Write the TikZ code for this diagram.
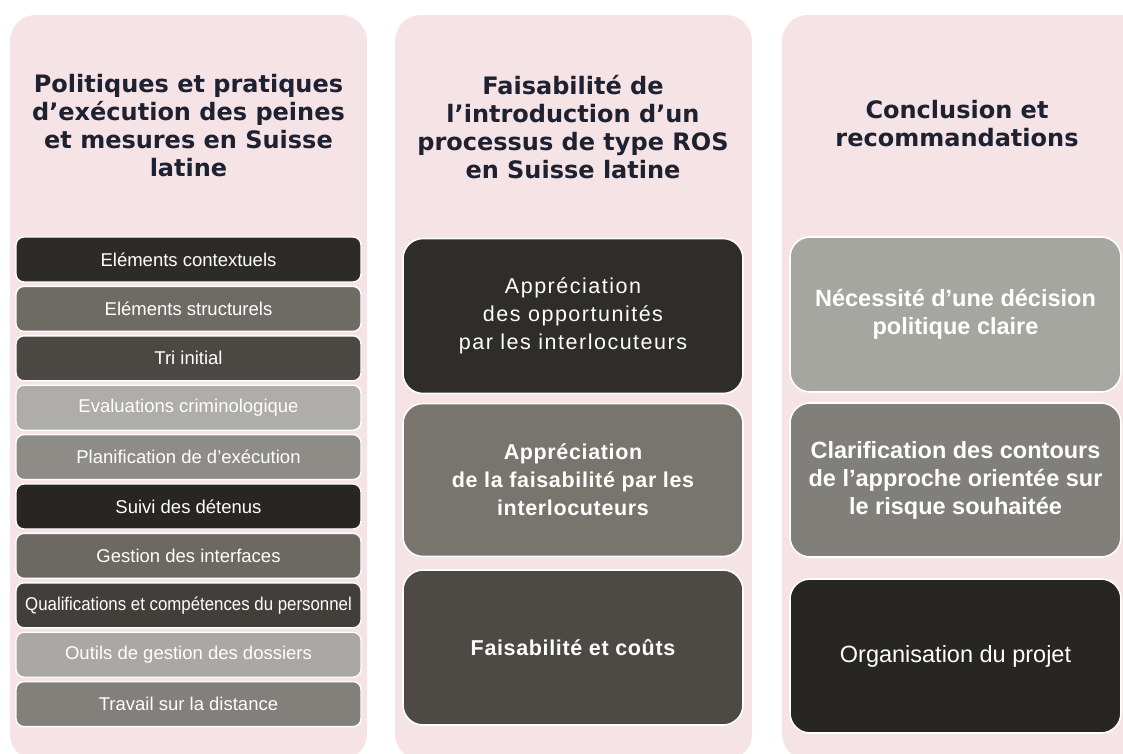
\documentclass[tikz,border=0pt]{standalone}
\usepackage{fontspec}
\setmainfont{Liberation Sans}
\newfontfamily\titlefont{DejaVu Sans}
\newfontfamily\trackfont[LetterSpace=7]{Liberation Sans}
\newfontfamily\trackboldfont[LetterSpace=3]{Liberation Sans}
\definecolor{pinkcol}{HTML}{F6E3E5}
\definecolor{titlecol}{HTML}{1E2131}
\definecolor{cA}{HTML}{2D2B28}
\definecolor{cB}{HTML}{6E6B65}
\definecolor{cC}{HTML}{4B4843}
\definecolor{cD}{HTML}{AEADAA}
\definecolor{cE}{HTML}{8E8C87}
\definecolor{cF}{HTML}{272623}
\definecolor{cG}{HTML}{6C6963}
\definecolor{cH}{HTML}{423F3A}
\definecolor{cI}{HTML}{A9A8A4}
\definecolor{cJ}{HTML}{82807B}
\definecolor{dA}{HTML}{2F2D2A}
\definecolor{dB}{HTML}{78756F}
\definecolor{dC}{HTML}{4D4A45}
\definecolor{eA}{HTML}{A6A6A1}
\definecolor{eB}{HTML}{817F7A}
\definecolor{eC}{HTML}{272623}
\tikzset{
  colbg/.style={fill=pinkcol, draw=none, rounded corners=26pt},
  title/.style={text=titlecol, align=center, font=\titlefont\bfseries\fontsize{24}{28}\selectfont},
  rowbox/.style={draw=white, line width=1.4pt, rounded corners=8pt, minimum width=345pt, minimum height=45pt, inner sep=0pt, text=white, font=\fontsize{18.5}{21}\selectfont},
  bigbox/.style={draw=white, line width=1.6pt, rounded corners=20pt, inner sep=0pt, text=white, align=center},
  midbox/.style={bigbox, minimum width=340pt},
  rightbox/.style={bigbox, minimum width=331pt},
}
\begin{document}
\begin{tikzpicture}[x=1pt,y=-1pt]
\useasboundingbox (0,0) rectangle (1123,753);
\fill[white] (0,0) rectangle (1123,753);
\begin{scope}
\clip (0,0) rectangle (1123,753);
\path[colbg] (10,15) rectangle (367,760);
\path[colbg] (395,15) rectangle (752,760);
\path[colbg] (782,15) rectangle (1150,760);
\end{scope}
% titles
\node[title] (t1) at (188.5,126) {Politiques et pratiques\\d’exécution des peines\\et mesures en Suisse\\latine};
\node[title] (t2) at (573,127) {Faisabilité de\\l’introduction d’un\\processus de type ROS\\en Suisse latine};
\node[title] (t3) at (957,124) {Conclusion et\\recommandations};
% column 1
\node[rowbox, fill=cA] (r1) at (188.5,259.5) {Eléments contextuels};
\node[rowbox, fill=cB] (r2) at (188.5,308.9) {Eléments structurels};
\node[rowbox, fill=cC] (r3) at (188.5,358.3) {Tri initial};
\node[rowbox, fill=cD] (r4) at (188.5,407.7) {Evaluations criminologique};
\node[rowbox, fill=cE] (r5) at (188.5,457.1) {Planification de d’exécution};
\node[rowbox, fill=cF] (r6) at (188.5,506.5) {Suivi des détenus};
\node[rowbox, fill=cG] (r7) at (188.5,555.9) {Gestion des interfaces};
\node[rowbox, fill=cH] (r8) at (188.5,605.3) {\scalebox{0.91}[1]{Qualifications et compétences du personnel}};
\node[rowbox, fill=cI] (r9) at (188.5,654.7) {Outils de gestion des dossiers};
\node[rowbox, fill=cJ] (r10) at (188.5,704.1) {Travail sur la distance};
% column 2
\node[midbox, fill=dA, minimum height=155pt, font=\trackfont\fontsize{21.5}{28}\selectfont] (m1) at (573,316) {Appréciation\\des opportunités\\par les interlocuteurs};
\node[midbox, fill=dB, minimum height=153pt, font=\trackboldfont\bfseries\fontsize{21.5}{28}\selectfont] (m2) at (573,480) {Appréciation\\de la faisabilité par les\\interlocuteurs};
\node[midbox, fill=dC, minimum height=155pt, font=\trackboldfont\bfseries\fontsize{21.5}{28}\selectfont] (m3) at (573,647.5) {Faisabilité et coûts};
% column 3
\node[rightbox, fill=eA, minimum height=155pt, font=\bfseries\fontsize{23.5}{28}\selectfont] (e1) at (955.5,314.5) {Nécessité d’une décision\\politique claire};
\node[rightbox, fill=eB, minimum height=154pt, font=\bfseries\fontsize{23.5}{28}\selectfont] (e2) at (955.5,480) {Clarification des contours\\de l’approche orientée sur\\le risque souhaitée};
\node[rightbox, fill=eC, minimum height=154pt, font=\fontsize{23.5}{28}\selectfont] (e3) at (955.5,656) {Organisation du projet};
\end{tikzpicture}
\end{document}
